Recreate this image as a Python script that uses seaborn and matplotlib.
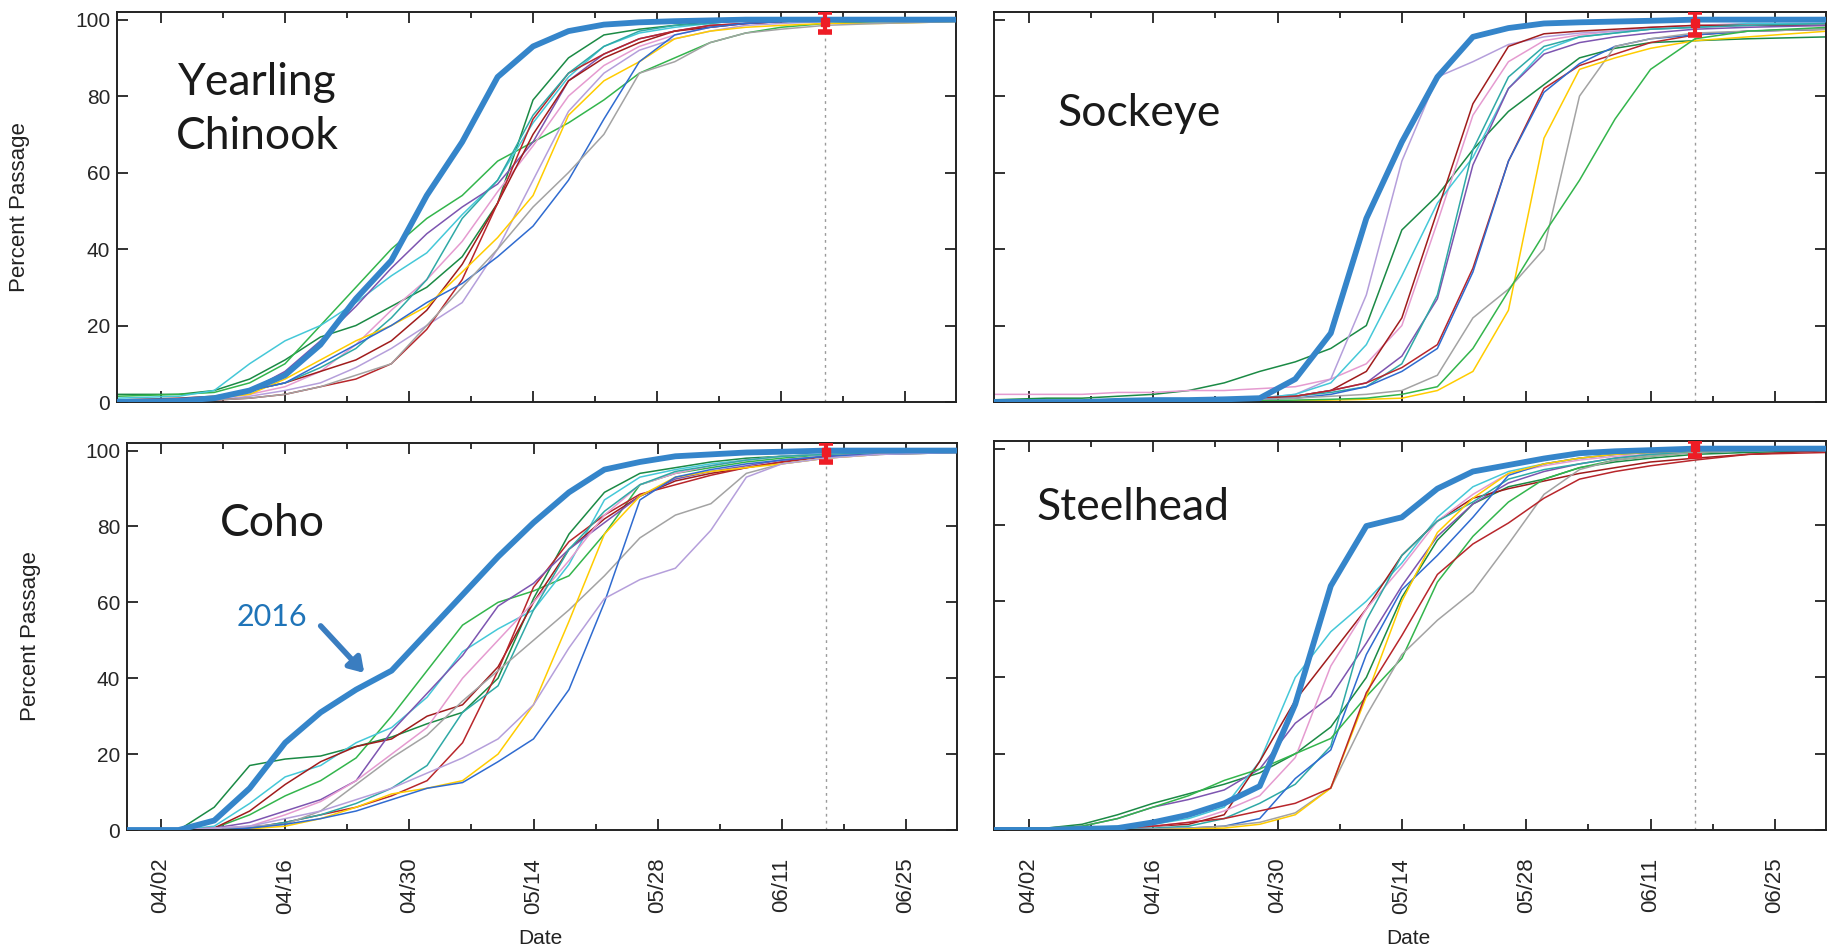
import matplotlib
matplotlib.use("Agg")
import matplotlib.pyplot as plt
import matplotlib.dates as mdates
import pandas as pd
import seaborn as sns

# sampling dates shared by every curve
dates = ["03/28", "04/04", "04/08", "04/12", "04/16", "04/20", "04/24", "04/28",
         "05/02", "05/06", "05/10", "05/14", "05/18", "05/22", "05/26", "05/30",
         "06/03", "06/07", "06/11", "06/16", "06/22", "07/01"]

major_ticks = ["04/02", "04/16", "04/30", "05/14", "05/28", "06/11", "06/25"]
minor_ticks = ["04/09", "04/23", "05/07", "05/21", "06/04", "06/18"]
y_ticks = [0, 20, 40, 60, 80, 100]
marker_date = "06/16"

# percent passage of past years, keyed by line colour
chinook = {
    "dkgreen": [2, 2, 3, 6, 11, 17, 20, 25, 30, 38, 52, 79, 90, 96, 97.5, 98.5, 99.5, 100, 100, 100, 100, 100],
    "green": [1.5, 2, 2.5, 5, 10, 20, 30, 40, 48, 54, 63, 68, 73, 79, 86, 90, 94, 96.5, 98, 99, 99.5, 100],
    "cyan": [1, 1.5, 3, 10, 16, 20, 26, 33, 39, 49, 58, 73, 85, 93, 96.5, 98, 99, 100, 100, 100, 100, 100],
    "purple": [0.5, 0.5, 1, 3, 8, 16, 25, 35, 44, 51, 57, 68, 84, 91, 95, 97, 98.5, 99, 99.5, 100, 100, 100],
    "lavender": [0, 0.3, 0.5, 1.5, 3, 5, 9, 14, 20, 26, 40, 58, 76, 86, 92, 95, 97, 98.5, 99, 99.5, 100, 100],
    "pink": [0.3, 0.5, 1, 2, 4, 8, 15, 24, 32, 42, 55, 67, 80, 88, 93, 96, 98, 99, 100, 100, 100, 100],
    "dkred": [0.5, 1, 1.5, 3, 5, 8, 11, 16, 24, 36, 52, 70, 84, 90, 94, 97, 98, 99, 99.5, 100, 100, 100],
    "red2": [0, 0.3, 0.5, 1, 2, 4, 6, 10, 19, 32, 52, 74, 86, 91, 95, 97, 98.5, 99, 99.5, 100, 100, 100],
    "teal": [0.5, 0.5, 1, 3, 5, 9, 14, 22, 32, 48, 58, 75, 86, 93, 97, 98.5, 99, 100, 100, 100, 100, 100],
    "yellow": [0, 0.3, 1, 2, 6, 11, 16, 20, 25, 34, 43, 54, 75, 84, 89, 95, 97, 98, 98.5, 99, 99, 99.5],
    "blue": [0, 0.3, 1, 3, 5, 10, 15, 20, 26, 31, 38, 46, 58, 74, 89, 96, 98, 99, 99.5, 100, 100, 100],
    "gray": [0, 0.3, 0.5, 1, 2, 4, 7, 10, 20, 30, 40, 51, 60, 70, 86, 89, 94, 96.5, 97.5, 98.5, 99, 99.5],
}
chinook_2016 = [0, 0.3, 1, 3, 7, 15, 27, 37, 54, 68, 85, 93, 97, 98.7, 99.3, 99.6, 99.8, 100, 100, 100, 100, 100]

sockeye = {
    "dkgreen": [0.5, 1, 1, 1.5, 2, 3, 5, 8, 10.5, 14, 20, 45, 54, 66, 76, 83, 90, 92.5, 94, 94.5, 95, 95.5],
    "pink": [2, 2, 2, 2.5, 2.5, 3, 3, 3.5, 4, 6, 10, 20, 47, 75, 89, 94.5, 96, 97, 98, 98.5, 99, 99],
    "lavender": [0, 0, 0, 0.2, 0.3, 0.5, 0.7, 1, 2, 6, 28, 63, 85, 89, 93.5, 95.5, 96.5, 97, 97.5, 98, 98.5, 99],
    "cyan": [0, 0, 0, 0.2, 0.3, 0.5, 0.7, 1, 2, 5, 15, 33, 52, 64, 82, 92, 95.5, 96.5, 97.5, 98, 99, 99],
    "dkred": [0, 0, 0, 0.2, 0.3, 0.5, 0.7, 1, 1.5, 3, 8, 22, 50, 78, 93, 96.3, 97, 97.5, 98, 98.5, 98.5, 98.5],
    "purple": [0, 0, 0, 0.2, 0.3, 0.5, 0.7, 1, 1.5, 3, 5, 12, 27, 62, 82, 91, 94, 95.5, 96.5, 97.5, 98, 98.5],
    "teal": [0, 0, 0, 0.2, 0.3, 0.5, 0.7, 1, 1.5, 2.5, 4, 10, 28, 66, 85, 93, 95.5, 96.5, 97.5, 98, 98.5, 99],
    "red2": [0, 0, 0, 0.2, 0.3, 0.5, 0.7, 1, 1.5, 3, 5, 9, 15, 35, 63, 82, 88, 91, 94, 96, 97, 97.5],
    "blue": [0, 0, 0, 0, 0.2, 0.3, 0.5, 0.7, 1, 2, 4, 8, 14, 34, 63, 81, 88.5, 93, 95, 96, 97, 97.5],
    "gray": [0, 0, 0, 0, 0.2, 0.3, 0.5, 0.7, 1, 1.5, 2, 3, 7, 22, 29.5, 40, 80, 93, 95, 96.5, 97, 97.5],
    "yellow": [0, 0, 0, 0, 0, 0, 0, 0.2, 0.3, 0.5, 0.7, 1, 3, 8, 24, 69, 87, 90, 92.5, 94.5, 95.5, 97],
    "green": [0, 0, 0, 0, 0, 0, 0.2, 0.3, 0.5, 0.7, 1, 2, 4, 14, 29, 44, 58, 74, 87, 95, 97, 98],
}
sockeye_2016 = [0, 0, 0, 0.3, 0.5, 0.5, 0.7, 1, 6, 18, 48, 68, 85, 95.5, 97.8, 99, 99.3, 99.5, 99.7, 100, 100, 100]

coho = {
    "dkgreen": [0, 0, 6, 17, 18.7, 19.5, 22, 24.5, 28, 31, 40, 61, 78, 89, 94, 95.5, 97, 98, 98.5, 99, 99.5, 100],
    "green": [0, 0, 0.5, 4, 9, 13, 19, 30, 42, 54, 60, 63, 67, 78, 91, 94, 95.5, 97, 98, 99, 99.5, 100],
    "cyan": [0, 0, 1, 7, 14, 17, 23, 27, 35, 47, 53, 58, 70, 87, 93, 95, 96.5, 97.5, 98.5, 99, 99.5, 100],
    "dkred": [0, 0, 0.5, 5, 12, 18, 22, 24, 30, 33, 43, 60, 74, 82, 88, 92, 94, 95.5, 97, 98.5, 99.5, 100],
    "red2": [0, 0, 0, 0.5, 2, 4, 6, 9, 13, 23, 42, 64, 76, 83, 88.5, 91, 93.5, 95.5, 97, 98.5, 99.5, 100],
    "purple": [0, 0, 0.5, 2, 5, 8, 13, 26, 36, 46, 59, 65, 74, 81, 88, 92.5, 94.5, 96, 97.5, 98.5, 99.5, 100],
    "pink": [0, 0, 0.5, 1, 4, 7.5, 13, 20, 27, 40, 50, 60, 71, 83, 91, 94, 96, 97.5, 98.5, 99, 99.5, 100],
    "teal": [0, 0, 0, 0.5, 2, 4, 7, 11, 17, 31, 38, 58, 74, 84, 91, 94.5, 96, 97.5, 98.5, 99, 99.5, 100],
    "gray": [0, 0, 0, 1, 1.5, 5, 12, 19, 25, 34, 42, 50, 58, 67, 77, 83, 86, 94, 96.5, 98, 99, 99.5],
    "yellow": [0, 0, 0, 0.3, 1, 3, 6, 9.5, 11, 13, 20, 33, 55, 78, 88, 93, 94.5, 95.5, 96.5, 98, 99, 99.5],
    "blue": [0, 0, 0, 0.5, 1.5, 3, 5, 8, 11, 12.5, 18, 24, 37, 60, 87, 93, 95, 96.5, 97.5, 98.5, 99, 99.5],
    "lavender": [0, 0, 0.5, 1, 3, 5, 8, 11, 15, 19, 24, 33, 48, 61, 66, 69, 79, 93, 96.5, 98, 99, 99.5],
}
coho_2016 = [0, 0, 2.5, 11, 23, 31, 37, 42, 52, 62, 72, 81, 89, 95, 97, 98.5, 99, 99.5, 99.7, 100, 100, 100]

steelhead = {
    "dkgreen": [0.5, 0.5, 1.5, 4, 7, 9.5, 12, 15, 20, 27, 40, 61, 76, 85.5, 90, 92, 95, 96.5, 97.5, 98.5, 99, 99.5],
    "purple": [0.5, 0.5, 1, 3, 6, 8, 10.5, 16, 28, 35, 49, 64, 77, 85.5, 91, 94, 96, 97.5, 98.5, 99, 99.5, 100],
    "cyan": [0, 0, 0.5, 1, 1.5, 3, 6, 18, 40, 52, 60, 70, 82, 90, 94, 96, 97.5, 98.5, 99, 99.5, 100, 100],
    "dkred": [0, 0, 0, 0.5, 1, 1.5, 4, 18, 34, 46, 58, 72, 81, 87, 89.5, 91.5, 93.5, 95, 96.5, 97.5, 98.5, 99.5],
    "pink": [0, 0, 0.3, 0.5, 1, 2, 5, 9, 19, 43, 58, 69, 81, 88, 93.5, 95.5, 97, 98, 98.5, 99, 99.5, 100],
    "teal": [0, 0, 0, 0.3, 0.5, 1, 3, 7, 12, 22, 55, 72, 81, 86, 92, 94.5, 96, 97.5, 98.5, 99, 99.5, 100],
    "blue": [0, 0, 0, 0, 0.3, 0.5, 1, 3, 13.5, 21, 46, 63, 72, 82, 93, 96, 97.5, 98.5, 99, 99.5, 100, 100],
    "green": [0.3, 0.5, 1, 3, 6, 9, 13, 16, 20, 24, 35, 45, 65, 77, 86, 92, 95, 97, 98, 99, 99.5, 100],
    "gray": [0, 0, 0, 0, 0.3, 0.5, 1, 2, 4.5, 11, 30, 46, 55, 62.5, 75, 88, 94.5, 97, 98, 99, 99.5, 100],
    "yellow": [0, 0, 0, 0, 0, 0.3, 0.5, 1.5, 4, 11, 35, 60, 78, 87, 93.5, 96, 97.5, 98.5, 99, 99.5, 100, 100],
    "red2": [0, 0, 0, 0.5, 1, 2, 3, 5, 7, 11, 36, 51, 67, 75, 80.5, 87, 92, 94, 95.5, 97, 98.5, 99],
}
steelhead_2016 = [0, 0, 0.3, 0.5, 2, 4, 7, 11.5, 33, 64, 79.7, 82, 89.5, 94, 95.7, 97.4, 98.8, 99.3, 99.6, 100, 100, 100]

# red error bar at the marker date: centre, lower and upper error
err_mid = [99.5, 99.0, 99.5, 100.3]
err_low = [2.6, 3.0, 2.5, 2.3]
err_high = [2.5, 3.0, 2.5, 1.7]

colors = {
    "dkgreen": "#1b8a45", "green": "#33b54c", "cyan": "#45c8d8", "teal": "#2fa9a6",
    "purple": "#7d55b0", "lavender": "#b59fdb", "pink": "#e59bd0", "dkred": "#a01c1c",
    "red2": "#b8262b", "yellow": "#ffcc00", "blue": "#2f6bd0", "gray": "#a3a3a3",
}
blue_2016 = "#3585ca"

sns.set_theme(style="white")
plt.rcParams["font.family"] = ["Liberation Sans", "DejaVu Sans"]

W, H = 1828, 952
fig = plt.figure(figsize=(W / 100, H / 100), dpi=100)


def to_date(s):
    return pd.to_datetime("2016/" + s)


def rect(left, right, top, bottom):
    return [left / W, 1 - bottom / H, (right - left) / W, (bottom - top) / H]


panels = [
    (["Yearling", "Chinook"], chinook, chinook_2016, rect(117, 956, 12, 402), "03/28 00:45", False, True,
     [(0.167, 0.82), (0.167, 0.682)]),
    (["Sockeye"], sockeye, sockeye_2016, rect(994, 1826, 12, 402), "03/29 02:00", False, False,
     [(0.175, 0.741)]),
    (["Coho"], coho, coho_2016, rect(127, 957, 443, 830), "03/29 04:00", True, True,
     [(0.175, 0.793)]),
    (["Steelhead"], steelhead, steelhead_2016, rect(994, 1826, 441, 830), "03/29 02:00", True, False,
     [(0.167, 0.829)]),
]

x_dates = [to_date(d) for d in dates]

for i, (title, years, y2016, box, x0, show_x, show_y, title_pos) in enumerate(panels):
    ax = fig.add_axes(box)
    rows = []
    for name, vals in years.items():
        for d, v in zip(x_dates, vals):
            rows.append({"date": d, "pct": v, "series": name})
    df = pd.DataFrame(rows)
    sns.lineplot(data=df, x="date", y="pct", hue="series", palette=colors,
                 linewidth=1.1, legend=False, estimator=None, sort=False, ax=ax)
    sns.lineplot(x=x_dates, y=y2016, color=blue_2016, linewidth=4.2, ax=ax, zorder=5)

    mdate = to_date(marker_date)
    ax.axvline(mdate, color="#9a9a9a", lw=1, ls=(0, (2, 3)), zorder=1)
    ax.errorbar([mdate], [err_mid[i]], yerr=[[err_low[i]], [err_high[i]]], fmt="s",
                color="#ee1c25", ms=6, elinewidth=3, capsize=5, capthick=4, zorder=6)

    ax.set_xlim(pd.to_datetime("2016/" + x0), pd.to_datetime("2016/06/30 18:00"))
    ax.set_ylim(0, 102)
    ax.set_xticks([to_date(t) for t in major_ticks])
    ax.set_xticks([to_date(t) for t in minor_ticks], minor=True)
    ax.xaxis.set_major_formatter(mdates.DateFormatter("%m/%d"))
    ax.set_yticks(y_ticks)
    ax.tick_params(which="both", direction="in", top=True, right=True, bottom=True, left=True,
                   color="#222222", width=1.3)
    ax.tick_params(which="major", length=8)
    ax.tick_params(which="minor", length=4)
    ax.tick_params(axis="x", which="major", labelsize=16, pad=20, rotation=90)
    ax.tick_params(axis="y", labelsize=15, pad=5)
    for sp in ax.spines.values():
        sp.set_color("#222222")
        sp.set_linewidth(1.4)

    if show_x:
        ax.set_xlabel("Date", fontsize=15, color="#222222")
        ax.xaxis.set_label_coords(0.4976, -0.255)
    else:
        ax.set_xlabel("")
        ax.tick_params(axis="x", labelbottom=False)
    if show_y:
        ax.set_ylabel("Percent Passage", fontsize=16, color="#222222")
        ax.yaxis.set_label_coords(-0.104, 0.5)
    else:
        ax.set_ylabel("")
        ax.tick_params(axis="y", labelleft=False)

    for line, (tx, ty) in zip(title, title_pos):
        ax.text(tx, ty, line, transform=ax.transAxes, ha="center", va="center",
                fontsize=32, color="#1a1a1a", family=["Lato", "DejaVu Sans"])

    if title == ["Coho"]:
        ax.annotate("", xy=(to_date("04/24 22:00"), 41.4), xytext=(to_date("04/20"), 53.8),
                    arrowprops=dict(arrowstyle="-|>,head_length=0.7,head_width=0.45",
                                    lw=4, color="#3a7dc0", shrinkA=0, shrinkB=0))
        ax.text(to_date("04/14 12:00"), 56.2, "2016", ha="center", va="center",
                fontsize=22, color="#1f74b8", family=["Lato", "DejaVu Sans"])

fig.savefig("out.png", dpi=100)
